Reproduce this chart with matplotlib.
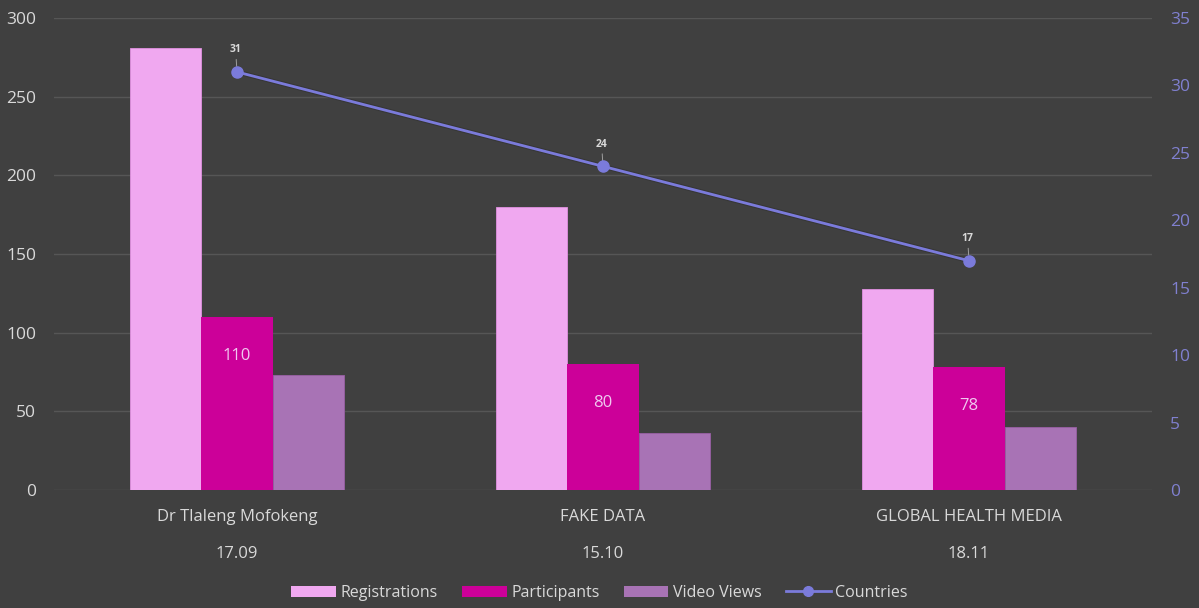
import matplotlib
matplotlib.use("Agg")
import matplotlib.pyplot as plt
from matplotlib.lines import Line2D
from matplotlib.patches import Patch
import numpy as np

categories = ["Dr Tlaleng Mofokeng", "FAKE DATA", "GLOBAL HEALTH MEDIA"]
dates = ["17.09", "15.10", "18.11"]
registrations = [281, 180, 128]
participants = [110, 80, 78]
video_views = [73, 36, 40]
countries = [31, 24, 17]

BG = "#404040"
C_REG = "#F0A8F0"
C_PAR = "#CC0099"
C_VID = "#A873B5"
C_LINE = "#7B7BDB"
C_RTICK = "#8080D0"
C_TXT = "#D9D9D9"
C_GRID = "#565656"

plt.rcParams['font.family'] = ['Open Sans', 'DejaVu Sans']

fig = plt.figure(figsize=(11.99, 6.08), dpi=100, facecolor=BG)
ax = fig.add_axes([54/1199, 1-490/608, (1152-54)/1199, (490-18)/608])
ax.set_facecolor(BG)
x = np.arange(len(categories))
w = 0.194
ax.bar(x - w, registrations, w, color=C_REG, edgecolor="#E090E0", linewidth=0.6, zorder=3)
ax.bar(x, participants, w, color=C_PAR, linewidth=0, zorder=3)
ax.bar(x + w, video_views, w, color=C_VID, edgecolor="#9860A5", linewidth=0.6, zorder=3)
for xi, v in zip(x, participants):
    ax.annotate(str(v), xy=(xi, v), xytext=(0, -28), textcoords="offset points",
                ha="center", va="center", color="#F0C8F0", fontsize=12, zorder=4)

ax.set_xlim(-0.5, 2.5)
ax.set_ylim(0, 300)
ax.set_yticks(range(0, 301, 50))
ax.yaxis.grid(True, color=C_GRID, linewidth=1)
ax.set_axisbelow(True)
for s in ax.spines.values():
    s.set_visible(False)
ax.tick_params(axis="y", length=0, colors=C_TXT, labelsize=12.5, pad=13)
ax.set_xticks(x)
ax.set_xticklabels([f"{c}\n\n{d}" for c, d in zip(categories, dates)], color=C_TXT, fontsize=12, linespacing=1.2)
ax.tick_params(axis="x", length=0, pad=14)

ax2 = ax.twinx()
ax2.set_ylim(0, 35)
ax2.set_yticks(range(0, 36, 5))
for s in ax2.spines.values():
    s.set_visible(False)
ax2.tick_params(axis="y", length=0, colors=C_RTICK, labelsize=12.5, pad=13)
ax2.plot(x, countries, color="#2a2a2a", linewidth=3.5, alpha=0.45, zorder=2)
ax2.plot(x, countries, color=C_LINE, linewidth=2, marker="o", markersize=8, zorder=5)
for xi, v in zip(x, countries):
    ax2.annotate(str(v), xy=(xi, v), xytext=(-1, 12), textcoords="offset points",
                 ha="center", va="bottom", color=C_TXT, fontsize=7.5, fontweight="bold",
                 arrowprops=dict(arrowstyle="-", color="#A0A0A0", lw=0.7, shrinkA=1, shrinkB=4))

handles = [Patch(facecolor=C_REG), Patch(facecolor=C_PAR), Patch(facecolor=C_VID),
           Line2D([0], [0], color=C_LINE, marker="o", markersize=7, linewidth=2)]
labels = ["Registrations", "Participants", "Video Views", "Countries"]
leg = fig.legend(handles, labels, loc="center", bbox_to_anchor=(0.5, 1-593/608), ncol=4,
                 frameon=False, fontsize=11.5, labelcolor=C_TXT, handlelength=2.8,
                 handleheight=0.7, handletextpad=0.3, columnspacing=1.5)

fig.savefig("out.png", dpi=100, facecolor=BG)
